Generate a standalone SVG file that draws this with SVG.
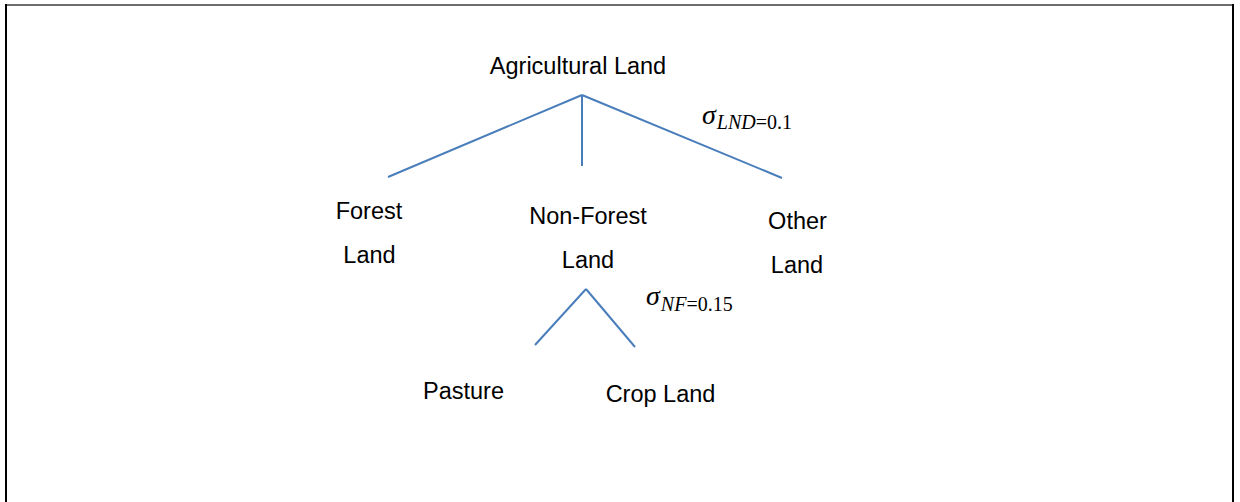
<svg xmlns="http://www.w3.org/2000/svg" width="1240" height="502" viewBox="0 0 1240 502">
  <style>
    .lbl { font-family: "Liberation Sans", Arial, sans-serif; font-size: 23.5px; fill: #000; text-anchor: middle; }
    .edge { stroke: #4a7ebb; stroke-width: 2; fill: none; stroke-linecap: butt; }
    .sig { font-family: "Liberation Serif", "DejaVu Serif", serif; font-style: italic; font-size: 28px; fill: #000; }
    .sub { font-family: "Liberation Serif", "DejaVu Serif", serif; font-size: 20px; fill: #000; }
    .it { font-style: italic; }
  </style>
  <rect width="1240" height="502" fill="#fff"/>
  <!-- frame -->
  <g id="frame">
    <line x1="5" y1="5" x2="1234" y2="5" stroke="#6e6e6e" stroke-width="2"/>
    <line x1="6" y1="4" x2="6" y2="502" stroke="#000" stroke-width="2"/>
    <line x1="1233" y1="4" x2="1233" y2="502" stroke="#000" stroke-width="2"/>
  </g>
  <!-- connectors -->
  <g id="connectors">
    <line class="edge" x1="582" y1="95" x2="388" y2="177"/>
    <line class="edge" x1="582" y1="95" x2="582" y2="166"/>
    <line class="edge" x1="582" y1="95" x2="782" y2="178"/>
    <line class="edge" x1="586" y1="289" x2="535" y2="345"/>
    <line class="edge" x1="586" y1="289" x2="635" y2="347"/>
  </g>
  <g id="sigma-lnd">
    <text x="702" y="124"><tspan class="sig">σ</tspan><tspan class="sub" dy="5" dx="1"><tspan class="it">LND</tspan>=0.1</tspan></text>
  </g>
  <g id="sigma-nf">
    <text x="646" y="305"><tspan class="sig">σ</tspan><tspan class="sub" dy="6" dx="1"><tspan class="it">NF</tspan>=0.15</tspan></text>
  </g>
  <g id="agricultural-land">
    <text class="lbl" x="578" y="74">Agricultural Land</text>
  </g>
  <g id="forest-land">
    <text class="lbl" x="369" y="219">Forest</text>
    <text class="lbl" x="369.5" y="263">Land</text>
  </g>
  <g id="non-forest-land">
    <text class="lbl" x="588" y="224">Non-Forest</text>
    <text class="lbl" x="588" y="268">Land</text>
  </g>
  <g id="other-land">
    <text class="lbl" x="797.5" y="229">Other</text>
    <text class="lbl" x="797" y="273">Land</text>
  </g>
  <g id="pasture">
    <text class="lbl" x="463.5" y="399">Pasture</text>
  </g>
  <g id="crop-land">
    <text class="lbl" x="660.5" y="402">Crop Land</text>
  </g>
</svg>
